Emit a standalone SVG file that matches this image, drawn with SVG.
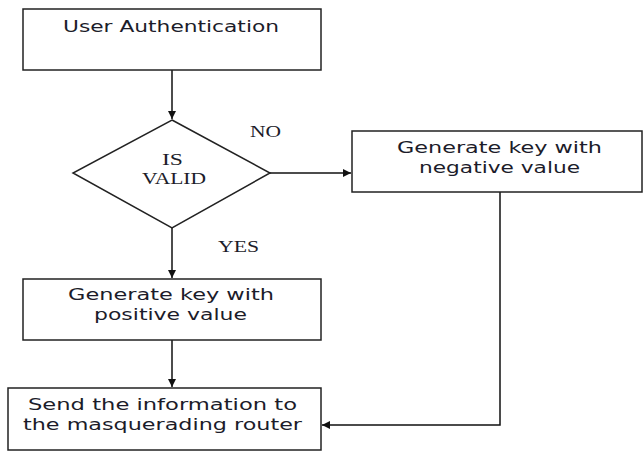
<svg xmlns="http://www.w3.org/2000/svg" width="643" height="452" viewBox="0 0 643 452">
  <style>
    .box { fill: #ffffff; stroke: #222222; stroke-width: 1.5; }
    .lbl { font-family: "DejaVu Sans", Verdana, sans-serif; font-size: 15px; fill: #1c1c2a; text-anchor: middle; }
    .ser { font-family: "Liberation Serif", "Times New Roman", serif; font-size: 16px; fill: #1c1c2a; text-anchor: middle; }
    .wire { fill: none; stroke: #111111; stroke-width: 1.5; }
  </style>
  <defs>
    <marker id="arrow" viewBox="0 0 10 10" refX="10" refY="5" markerWidth="8" markerHeight="8" markerUnits="userSpaceOnUse" orient="auto">
      <path d="M0,0 L10,5 L0,10 Z" fill="#111111"/>
    </marker>
  </defs>

  <rect width="643" height="452" fill="#ffffff"/>

  <g id="connectors">
    <line class="wire" x1="172" y1="70" x2="172" y2="119" marker-end="url(#arrow)"/>
    <line class="wire" x1="270" y1="173" x2="351" y2="173" marker-end="url(#arrow)"/>
    <line class="wire" x1="172" y1="228" x2="172" y2="278" marker-end="url(#arrow)"/>
    <line class="wire" x1="172" y1="340" x2="172" y2="387" marker-end="url(#arrow)"/>
    <polyline class="wire" points="500,192 500,425 322,425" marker-end="url(#arrow)"/>
  </g>

  <g id="user-auth">
    <rect class="box" x="23" y="9" width="298" height="61"/>
    <text class="lbl" x="171" y="32" textLength="216" lengthAdjust="spacingAndGlyphs">User Authentication</text>
  </g>

  <g id="is-valid">
    <polygon class="box" points="172,120 270,173 172,228 73,173"/>
    <text class="ser" x="172.5" y="165" textLength="21" lengthAdjust="spacingAndGlyphs">IS</text>
    <text class="ser" x="174" y="184" textLength="64" lengthAdjust="spacingAndGlyphs">VALID</text>
  </g>

  <g id="label-no">
    <text class="ser" x="265.5" y="137" textLength="31" lengthAdjust="spacingAndGlyphs">NO</text>
  </g>

  <g id="label-yes">
    <text class="ser" x="238.5" y="252" textLength="41" lengthAdjust="spacingAndGlyphs">YES</text>
  </g>

  <g id="negative-key">
    <rect class="box" x="352" y="131" width="290" height="61"/>
    <text class="lbl" x="499.5" y="153" textLength="205" lengthAdjust="spacingAndGlyphs">Generate key with</text>
    <text class="lbl" x="499.5" y="173" textLength="161" lengthAdjust="spacingAndGlyphs">negative value</text>
  </g>

  <g id="positive-key">
    <rect class="box" x="23" y="279" width="298" height="61"/>
    <text class="lbl" x="171" y="300" textLength="206" lengthAdjust="spacingAndGlyphs">Generate key with</text>
    <text class="lbl" x="170.5" y="320" textLength="153" lengthAdjust="spacingAndGlyphs">positive value</text>
  </g>

  <g id="send-router">
    <rect class="box" x="8" y="388" width="313" height="62"/>
    <text class="lbl" x="162.5" y="410" textLength="269" lengthAdjust="spacingAndGlyphs">Send the information to</text>
    <text class="lbl" x="162.5" y="430" textLength="279" lengthAdjust="spacingAndGlyphs">the masquerading router</text>
  </g>
</svg>
